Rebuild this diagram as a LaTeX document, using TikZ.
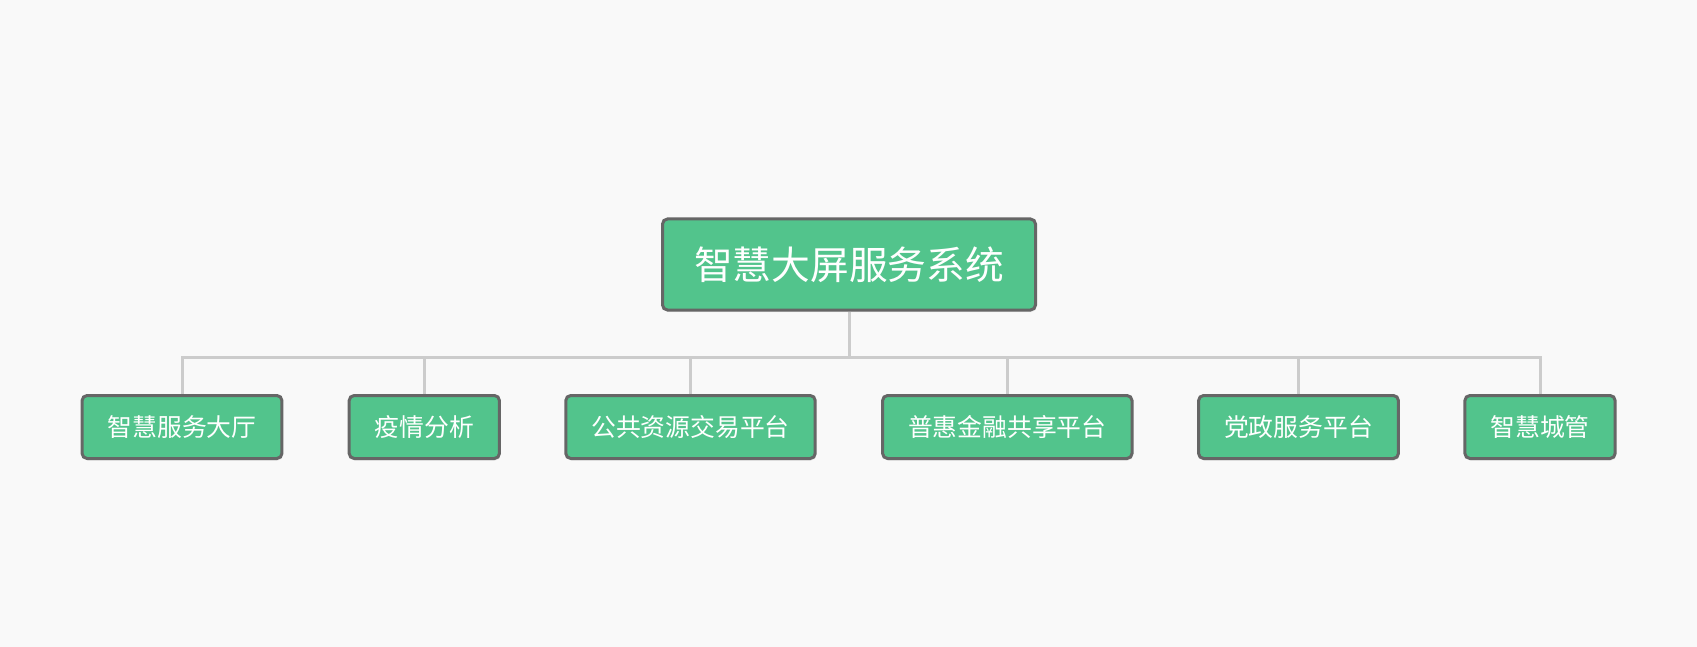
\documentclass[tikz,border=0pt]{standalone}
\usepackage{fontspec}
\setmainfont{Noto Sans CJK SC}
\usetikzlibrary{shadows}
\definecolor{boxgreen}{HTML}{52C48C}
\definecolor{boxline}{HTML}{666666}
\definecolor{linkgray}{HTML}{CCCCCC}
\definecolor{paper}{HTML}{F9F9F9}

\begin{document}
\begin{tikzpicture}[x=1pt,y=-1pt,
    box/.style={draw=boxline,fill=boxgreen,line width=3pt,rounded corners=5pt,text=white,
      drop shadow={opacity=0.12,shadow xshift=1pt,shadow yshift=-2pt}},
    root/.style={box,inner xsep=31.5pt,minimum height=91pt,font=\fontsize{38.75}{46}\selectfont},
    leaf/.style={box,inner xsep=25.5pt,minimum height=63pt,font=\fontsize{24.8}{30}\selectfont},
    link/.style={draw=linkgray,line width=3pt}]
      \fill[paper] (0,0) rectangle (1697,647);
      \useasboundingbox (0,0) rectangle (1697,647);
      \node[root] (sys) at (849,264.5) {智慧大屏服务系统};
      \node[leaf] (hall) at (182,427) {智慧服务大厅};
      \node[leaf] (epi) at (424.3,427) {疫情分析};
      \node[leaf] (trade) at (690.5,427) {公共资源交易平台};
      \node[leaf] (fin) at (1007.3,427) {普惠金融共享平台};
      \node[leaf] (party) at (1298.5,427) {党政服务平台};
      \node[leaf] (city) at (1540,427) {智慧城管};
      \coordinate (bus) at (849,357);
      \draw[link] (sys.south) -- (bus);
      \draw[link] (hall.north) |- (bus) -| (city.north);
      \foreach \n in {epi,trade,fin,party}
        \draw[link] (\n.north) -- (\n.north |- bus);
    \end{tikzpicture}
\end{document}
